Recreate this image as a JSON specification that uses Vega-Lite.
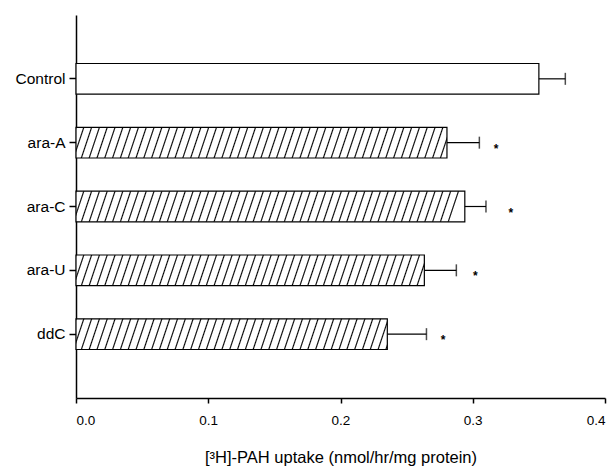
{
 "$schema": "https://vega.github.io/schema/vega-lite/v6.json",
 "width": 529, "height": 383,
 "autosize": "none",
 "padding": {"left": 76, "top": 15, "right": 9, "bottom": 69},
 "background": "white",
 "config": {"view": {"stroke": null}, "font": "Liberation Sans",
  "axis": {"domainColor": "black", "tickColor": "black", "labelColor": "black", "titleColor": "black", "grid": false, "labelFont": "Liberation Sans", "titleFont": "Liberation Sans", "titleFontWeight": "normal"}},
 "params": [{"name": "hatch", "value": [
{"offset":0,"color":"#000"},{"offset":0.003,"color":"#fff"},{"offset":0.017,"color":"#fff"},
{"offset":0.02,"color":"#000"},{"offset":0.023,"color":"#fff"},{"offset":0.037,"color":"#fff"},
{"offset":0.04,"color":"#000"},{"offset":0.043,"color":"#fff"},{"offset":0.057,"color":"#fff"},
{"offset":0.06,"color":"#000"},{"offset":0.063,"color":"#fff"},{"offset":0.077,"color":"#fff"},
{"offset":0.08,"color":"#000"},{"offset":0.083,"color":"#fff"},{"offset":0.097,"color":"#fff"},
{"offset":0.1,"color":"#000"},{"offset":0.103,"color":"#fff"},{"offset":0.117,"color":"#fff"},
{"offset":0.12,"color":"#000"},{"offset":0.123,"color":"#fff"},{"offset":0.137,"color":"#fff"},
{"offset":0.14,"color":"#000"},{"offset":0.143,"color":"#fff"},{"offset":0.157,"color":"#fff"},
{"offset":0.16,"color":"#000"},{"offset":0.163,"color":"#fff"},{"offset":0.177,"color":"#fff"},
{"offset":0.18,"color":"#000"},{"offset":0.183,"color":"#fff"},{"offset":0.197,"color":"#fff"},
{"offset":0.2,"color":"#000"},{"offset":0.203,"color":"#fff"},{"offset":0.217,"color":"#fff"},
{"offset":0.22,"color":"#000"},{"offset":0.223,"color":"#fff"},{"offset":0.237,"color":"#fff"},
{"offset":0.24,"color":"#000"},{"offset":0.243,"color":"#fff"},{"offset":0.257,"color":"#fff"},
{"offset":0.26,"color":"#000"},{"offset":0.263,"color":"#fff"},{"offset":0.277,"color":"#fff"},
{"offset":0.28,"color":"#000"},{"offset":0.283,"color":"#fff"},{"offset":0.297,"color":"#fff"},
{"offset":0.3,"color":"#000"},{"offset":0.303,"color":"#fff"},{"offset":0.317,"color":"#fff"},
{"offset":0.32,"color":"#000"},{"offset":0.323,"color":"#fff"},{"offset":0.337,"color":"#fff"},
{"offset":0.34,"color":"#000"},{"offset":0.343,"color":"#fff"},{"offset":0.357,"color":"#fff"},
{"offset":0.36,"color":"#000"},{"offset":0.363,"color":"#fff"},{"offset":0.377,"color":"#fff"},
{"offset":0.38,"color":"#000"},{"offset":0.383,"color":"#fff"},{"offset":0.397,"color":"#fff"},
{"offset":0.4,"color":"#000"},{"offset":0.403,"color":"#fff"},{"offset":0.417,"color":"#fff"},
{"offset":0.42,"color":"#000"},{"offset":0.423,"color":"#fff"},{"offset":0.437,"color":"#fff"},
{"offset":0.44,"color":"#000"},{"offset":0.443,"color":"#fff"},{"offset":0.457,"color":"#fff"},
{"offset":0.46,"color":"#000"},{"offset":0.463,"color":"#fff"},{"offset":0.477,"color":"#fff"},
{"offset":0.48,"color":"#000"},{"offset":0.483,"color":"#fff"},{"offset":0.497,"color":"#fff"},
{"offset":0.5,"color":"#000"},{"offset":0.503,"color":"#fff"},{"offset":0.517,"color":"#fff"},
{"offset":0.52,"color":"#000"},{"offset":0.523,"color":"#fff"},{"offset":0.537,"color":"#fff"},
{"offset":0.54,"color":"#000"},{"offset":0.543,"color":"#fff"},{"offset":0.557,"color":"#fff"},
{"offset":0.56,"color":"#000"},{"offset":0.563,"color":"#fff"},{"offset":0.577,"color":"#fff"},
{"offset":0.58,"color":"#000"},{"offset":0.583,"color":"#fff"},{"offset":0.597,"color":"#fff"},
{"offset":0.6,"color":"#000"},{"offset":0.603,"color":"#fff"},{"offset":0.617,"color":"#fff"},
{"offset":0.62,"color":"#000"},{"offset":0.623,"color":"#fff"},{"offset":0.637,"color":"#fff"},
{"offset":0.64,"color":"#000"},{"offset":0.643,"color":"#fff"},{"offset":0.657,"color":"#fff"},
{"offset":0.66,"color":"#000"},{"offset":0.663,"color":"#fff"},{"offset":0.677,"color":"#fff"},
{"offset":0.68,"color":"#000"},{"offset":0.683,"color":"#fff"},{"offset":0.697,"color":"#fff"},
{"offset":0.7,"color":"#000"},{"offset":0.703,"color":"#fff"},{"offset":0.717,"color":"#fff"},
{"offset":0.72,"color":"#000"},{"offset":0.723,"color":"#fff"},{"offset":0.737,"color":"#fff"},
{"offset":0.74,"color":"#000"},{"offset":0.743,"color":"#fff"},{"offset":0.757,"color":"#fff"},
{"offset":0.76,"color":"#000"},{"offset":0.763,"color":"#fff"},{"offset":0.777,"color":"#fff"},
{"offset":0.78,"color":"#000"},{"offset":0.783,"color":"#fff"},{"offset":0.797,"color":"#fff"},
{"offset":0.8,"color":"#000"},{"offset":0.803,"color":"#fff"},{"offset":0.817,"color":"#fff"},
{"offset":0.82,"color":"#000"},{"offset":0.823,"color":"#fff"},{"offset":0.837,"color":"#fff"},
{"offset":0.84,"color":"#000"},{"offset":0.843,"color":"#fff"},{"offset":0.857,"color":"#fff"},
{"offset":0.86,"color":"#000"},{"offset":0.863,"color":"#fff"},{"offset":0.877,"color":"#fff"},
{"offset":0.88,"color":"#000"},{"offset":0.883,"color":"#fff"},{"offset":0.897,"color":"#fff"},
{"offset":0.9,"color":"#000"},{"offset":0.903,"color":"#fff"},{"offset":0.917,"color":"#fff"},
{"offset":0.92,"color":"#000"},{"offset":0.923,"color":"#fff"},{"offset":0.937,"color":"#fff"},
{"offset":0.94,"color":"#000"},{"offset":0.943,"color":"#fff"},{"offset":0.957,"color":"#fff"},
{"offset":0.96,"color":"#000"},{"offset":0.963,"color":"#fff"},{"offset":0.977,"color":"#fff"},
{"offset":0.98,"color":"#000"},{"offset":0.983,"color":"#fff"},{"offset":1,"color":"#fff"}
 ]}],
 "data": {"values": [
   {"group": "Control", "value": 0.35, "err": 0.37, "star": null},
   {"group": "ara-A", "value": 0.2805, "err": 0.305, "star": 0.3176},
   {"group": "ara-C", "value": 0.294, "err": 0.31, "star": 0.3287},
   {"group": "ara-U", "value": 0.2634, "err": 0.2876, "star": 0.302},
   {"group": "ddC", "value": 0.2354, "err": 0.265, "star": 0.2775}
 ]},
 "encoding": {
  "y": {"field": "group", "type": "nominal", "sort": ["Control", "ara-A", "ara-C", "ara-U", "ddC"],
   "scale": {"paddingInner": 0.52, "paddingOuter": 0.76},
   "axis": {"title": null, "labelFontSize": 15.5, "tickSize": 7, "labelPadding": 4, "domainWidth": 1.5, "tickWidth": 1.5}}
 },
 "layer": [
  {"mark": {"type": "bar", "stroke": "black", "strokeWidth": 1.2,
    "fill": {"expr": "datum.group === 'Control' ? '#ffffff' : {gradient: 'linear', x1: 0, y1: 0, x2: 390 / (datum.value / 0.4 * width), y2: 4000 / pow(datum.value / 0.4 * width, 2), stops: hatch}"}},
   "encoding": {"x": {"field": "value", "type": "quantitative", "title": "[³H]-PAH uptake (nmol/hr/mg protein)",
     "scale": {"domain": [0, 0.4], "nice": false},
     "axis": {"values": [0, 0.1, 0.2, 0.3, 0.4], "format": ".1f", "labelFontSize": 13.5, "tickSize": 5, "labelPadding": 10, "titleFontSize": 16.5, "titlePadding": 23, "domainWidth": 1.5, "tickWidth": 1.5}}}},
  {"mark": {"type": "rule", "color": "black", "strokeWidth": 1.2},
   "encoding": {"x": {"field": "value", "type": "quantitative", "title": "[³H]-PAH uptake (nmol/hr/mg protein)"}, "x2": {"field": "err"}}},
  {"mark": {"type": "tick", "color": "black", "size": 12, "thickness": 1.5},
   "encoding": {"x": {"field": "err", "type": "quantitative", "title": "[³H]-PAH uptake (nmol/hr/mg protein)"}}},
  {"transform": [{"filter": "datum.star != null"}],
   "mark": {"type": "text", "text": "*", "fontSize": 12, "fontWeight": "bold", "dy": 6, "color": "black"},
   "encoding": {"x": {"field": "star", "type": "quantitative", "title": "[³H]-PAH uptake (nmol/hr/mg protein)"}}}
 ]
}
